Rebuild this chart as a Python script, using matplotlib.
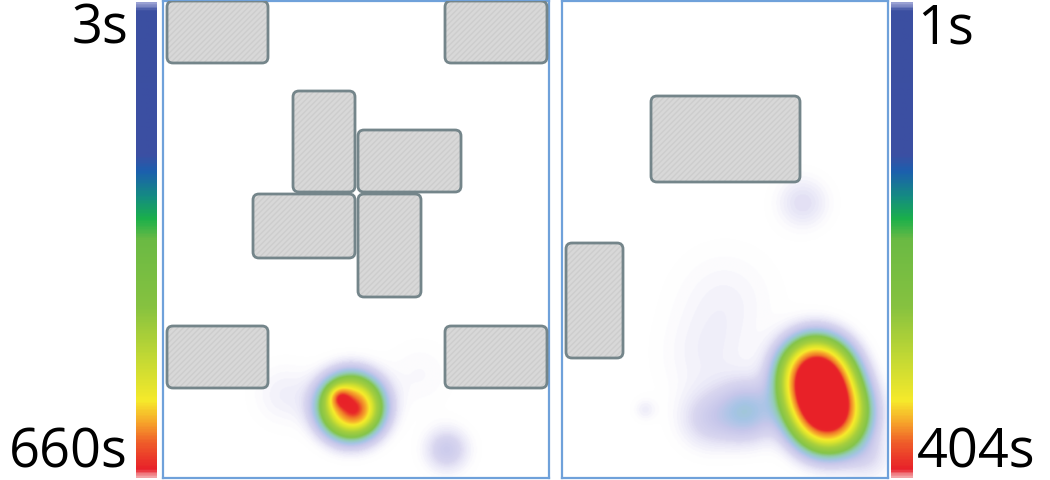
import numpy as np
import matplotlib.pyplot as plt
from matplotlib.colors import LinearSegmentedColormap
from matplotlib.patches import FancyBboxPatch

plt.rcParams['font.family'] = ['Open Sans', 'DejaVu Sans']

# obstacles, in picture pixels: x0, y0, x1, y1
left_obstacles = [
    (167, 1, 268, 63), (445, 1, 547, 63),
    (293, 91, 355, 192), (358, 130, 461, 192),
    (253, 194, 355, 258), (358, 194, 421, 297),
    (167, 326, 268, 388), (445, 326, 547, 388),
]
right_obstacles = [(651, 96, 800, 182), (566, 243, 623, 358)]

# heat blobs: cx, cy, sigma, weight
left_blobs = [
    (351, 407, 18, 0.84), (340, 398, 7, 0.32), (358, 413, 10, 0.12),
    (447, 450, 15, 0.06), (285, 395, 22, 0.02), (420, 375, 24, 0.012),
]
right_blobs = [
    (816, 372, 20, 0.9), (821, 394, 20, 0.9), (829, 416, 21, 0.95),
    (747, 412, 20, 0.1), (708, 420, 20, 0.045), (725, 300, 36, 0.016),
    (705, 360, 32, 0.016), (803, 203, 18, 0.035), (645, 410, 8, 0.02),
    (868, 458, 16, 0.03),
]

left_labels = ['3s', '660s']
right_labels = ['1s', '404s']

bar_colors = [(0.0, '#9aa1d3'), (0.015, '#3b4fa1'), (0.32, '#3c4fa3'),
              (0.355, '#1c5fae'), (0.41, '#148d80'), (0.455, '#1bb04b'),
              (0.5, '#6bba44'), (0.64, '#86c240'), (0.75, '#c3d934'),
              (0.84, '#f6ea2b'), (0.885, '#f7a62b'), (0.93, '#ef5b29'),
              (0.985, '#e8202a'), (1.0, '#f3a3a6')]
bar_cmap = LinearSegmentedColormap.from_list('bar', bar_colors)

heat_colors = [(0.0, (1, 1, 1, 0)), (0.015, (0.88, 0.87, 0.96, 0.35)),
               (0.04, (0.85, 0.84, 0.94, 1)), (0.07, (0.78, 0.78, 0.92, 1)),
               (0.1, (0.65, 0.77, 0.90, 1)), (0.14, (0.58, 0.80, 0.72, 1)),
               (0.2, (0.52, 0.77, 0.29, 1)), (0.32, (0.65, 0.81, 0.24, 1)),
               (0.45, (0.85, 0.89, 0.18, 1)), (0.55, (0.97, 0.92, 0.17, 1)),
               (0.65, (0.97, 0.71, 0.17, 1)), (0.78, (0.94, 0.48, 0.16, 1)),
               (0.9, (0.91, 0.15, 0.16, 1)), (1.0, (0.91, 0.13, 0.16, 1))]
heat_cmap = LinearSegmentedColormap.from_list('heat', heat_colors)

W, H = 1050, 480
fig = plt.figure(figsize=(10.5, 4.8), dpi=100)


def fig_axes(x0, y0, x1, y1):
    return fig.add_axes([x0 / W, 1 - y1 / H, (x1 - x0) / W, (y1 - y0) / H])


def colorbar(x0, x1):
    ax = fig_axes(x0, 2, x1, 478)
    grad = np.linspace(0, 1, 400).reshape(-1, 1)
    ax.imshow(grad, cmap=bar_cmap, aspect='auto', extent=(0, 1, 1, 0))
    ax.set_axis_off()


def panel(x0, x1, obstacles, blobs):
    y0, y1 = 0.5, 478
    ax = fig_axes(x0, y0, x1, y1)
    xs = np.linspace(x0, x1, 500)
    ys = np.linspace(y0, y1, 600)
    X, Y = np.meshgrid(xs, ys)
    Z = np.zeros_like(X)
    for cx, cy, s, w in blobs:
        Z += w * np.exp(-((X - cx) ** 2 + (Y - cy) ** 2) / (2 * s * s))
    ax.imshow(np.clip(Z, 0, 1), cmap=heat_cmap, vmin=0, vmax=1,
              extent=(x0, x1, y1, y0), aspect='auto', interpolation='bilinear')
    for ox0, oy0, ox1, oy1 in obstacles:
        box = FancyBboxPatch((ox0, oy0), ox1 - ox0, oy1 - oy0,
                             boxstyle='round,pad=0,rounding_size=6',
                             facecolor='#d8d8d8', edgecolor='#cdcdcd',
                             hatch='//////', lw=0, zorder=3)
        ax.add_patch(box)
        rim = FancyBboxPatch((ox0, oy0), ox1 - ox0, oy1 - oy0,
                             boxstyle='round,pad=0,rounding_size=6',
                             facecolor='none', edgecolor='#74858a',
                             lw=2.0, zorder=4)
        ax.add_patch(rim)
    ax.set_xlim(x0, x1)
    ax.set_ylim(y1, y0)
    ax.set_xticks([])
    ax.set_yticks([])
    for sp in ax.spines.values():
        sp.set_color('#6fa1da')
        sp.set_linewidth(1.6)


colorbar(136, 157)
panel(163, 549, left_obstacles, left_blobs)
panel(562, 888, right_obstacles, right_blobs)
colorbar(891, 913)

fig.text(128 / W, 1 - 43 / H, left_labels[0], ha='right', va='baseline', fontsize=39)
fig.text(128 / W, 1 - 468 / H, left_labels[1], ha='right', va='baseline', fontsize=39)
fig.text(917 / W, 1 - 43 / H, right_labels[0], ha='left', va='baseline', fontsize=39)
fig.text(917 / W, 1 - 468 / H, right_labels[1], ha='left', va='baseline', fontsize=39)

fig.savefig('out.png', dpi=100)
